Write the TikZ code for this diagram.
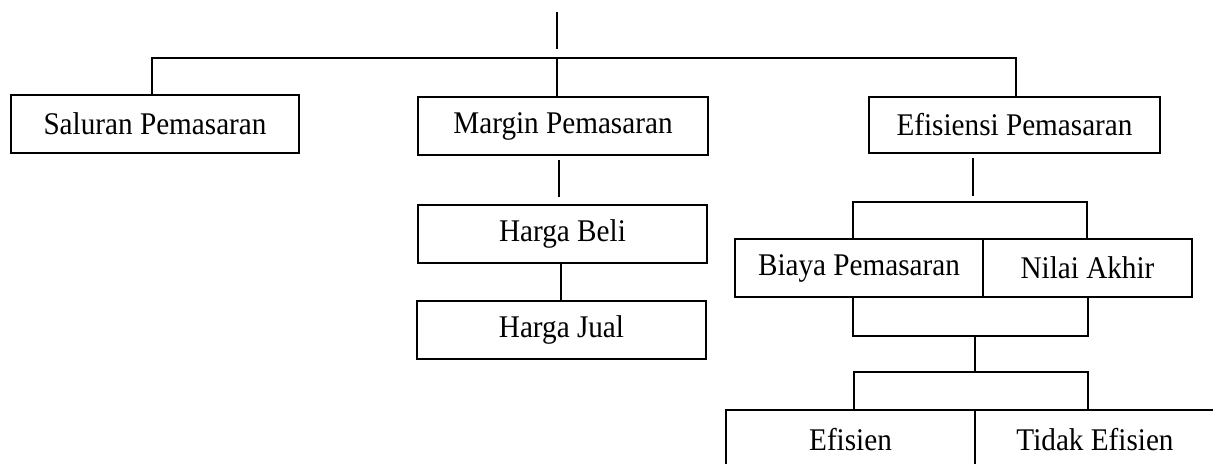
\documentclass[tikz,border=0pt]{standalone}
\usepackage{fontspec}
\usepackage{graphicx}
\setmainfont{Liberation Serif}
\newcommand\tx[1]{\scalebox{1}[1.08]{#1}}
\begin{document}
\begin{tikzpicture}[x=0.5pt,y=-0.5pt,
  box/.style={draw, line width=1.15pt, inner sep=0pt, minimum height=29pt,
    font=\fontsize{14.6}{17}\selectfont},
  conn/.style={line width=1pt}]
\useasboundingbox (0,0) rectangle (1213,464);
\clip (0,0) rectangle (1213,464);
% boxes
\node[box, minimum width=144pt] (sal) at (155,124) {\tx{Saluran Pemasaran}};
\node[box, minimum width=145pt] (mar) at (563,126) {\tx{Margin Pemasaran}};
\node[box, minimum width=145.5pt, minimum height=28pt] (efi) at (1014.5,125) {\tx{Efisiensi Pemasaran}};
\node[box, minimum width=144.5pt] (hb) at (562.5,234) {\tx{Harga Beli}};
\node[box, minimum width=144.5pt] (hj) at (561.5,330) {\tx{Harga Jual}};
\node[box, minimum width=124pt] (biaya) at (859,268) {\tx{Biaya Pemasaran}};
\node[box, minimum width=104.5pt] (nilai) at (1087.5,268) {\tx{Nilai Akhir}};
\node[box, minimum width=124.5pt, minimum height=30pt] (efisien) at (850.5,440) {\tx{Efisien}};
\node[box, minimum width=120pt, minimum height=30pt] (tidak) at (1095,440) {\tx{Tidak Efisien}};
% top connectors
\coordinate (top) at (557,12);
\coordinate (topend) at (557,49);
\coordinate (hub) at (557,58);
\draw[conn] (top) -- (topend);
\draw[conn] (sal.north -| 152,0) -- (152,58) -- (1016,58) -- (efi.north -| 1016,0);
\draw[conn] (hub) -- (mar.north -| hub);
% margin branch
\coordinate (m1) at (559,160);
\coordinate (m2) at (559,197);
\draw[conn] (m1) -- (m2);
\draw[conn] (hb.south -| 561,0) -- (hj.north -| 561,0);
% efisiensi branch
\coordinate (ea) at (973,158);
\coordinate (eb) at (973,196);
\draw[conn] (ea) -- (eb);
\coordinate (bl) at (853,202);
\coordinate (br) at (1087,202);
\draw[conn] (biaya.north -| bl) -- (bl) -- (br) -- (nilai.north -| br);
\coordinate (cl) at (853,336);
\coordinate (cr) at (1088,336);
\draw[conn] (biaya.south -| cl) -- (cl) -- (cr) -- (nilai.south -| cr);
\coordinate (cm) at (975,336);
\coordinate (dm) at (975,372);
\draw[conn] (cm) -- (dm);
\coordinate (dl) at (854,372);
\coordinate (dr) at (1088,372);
\draw[conn] (efisien.north -| dl) -- (dl) -- (dr) -- (tidak.north -| dr);
\end{tikzpicture}
\end{document}
